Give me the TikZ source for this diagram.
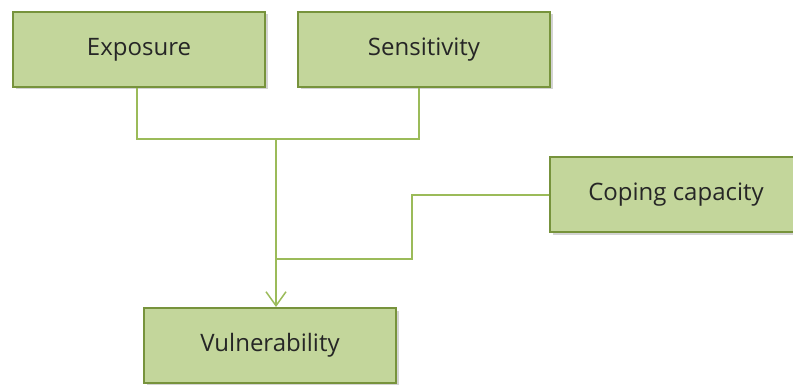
\documentclass[tikz,border=0pt]{standalone}
\usepackage{fontspec}
\setmainfont{Open Sans}
\usetikzlibrary{arrows.meta,shadows}
\definecolor{boxfill}{HTML}{C3D69B}
\definecolor{boxline}{HTML}{77933C}
\definecolor{linkline}{HTML}{9BBB59}
\begin{document}
\begin{tikzpicture}[x=1pt,y=-1pt,
  factor/.style={draw=boxline, line width=2pt, fill=boxfill, minimum width=252pt,
    minimum height=75pt, anchor=north west, inner sep=0pt,
    font=\fontsize{24}{28}\selectfont, text=black!85,
    drop shadow={opacity=0.35, shadow xshift=2.5pt, shadow yshift=-2.5pt}},
  link/.style={draw=linkline, line width=1.5pt}]
\useasboundingbox (0,0) rectangle (793,385);
\node[factor] (exp) at (12,11) {Exposure};
\node[factor] (sen) at (297,11) {Sensitivity};
\node[factor] (cop) at (549,156) {Coping capacity};
\node[factor] (vul) at (143,307) {Vulnerability};
\coordinate (jA) at (276,139);
\coordinate (jB) at (276,259);
\draw[link] (exp.south -| 137,0) |- (jA) -| (sen.south -| 419,0);
\draw[link, -{Straight Barb[length=14pt,width=20pt,line width=1.5pt]}] (jA) -- (vul.north -| jA);
\draw[link] (cop.west |- 0,195) -| (412,259) -- (jB);
\end{tikzpicture}
\end{document}
